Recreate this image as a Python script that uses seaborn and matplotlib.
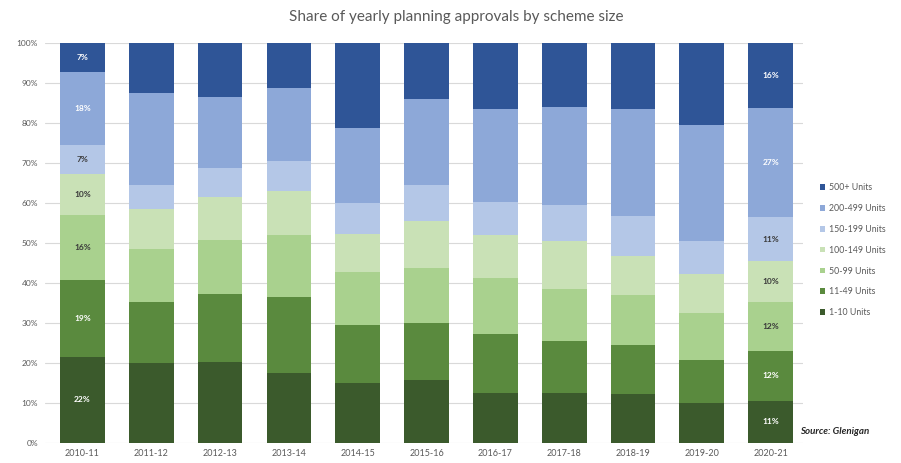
import numpy as np
import pandas as pd
import matplotlib
matplotlib.use("Agg")
import matplotlib.pyplot as plt
import seaborn as sns

# Financial years
years = ["2010-11", "2011-12", "2012-13", "2013-14", "2014-15", "2015-16",
         "2016-17", "2017-18", "2018-19", "2019-20", "2020-21"]

# Share of approvals (%) by scheme size, one list per size band
units_1_10 = [21.6, 19.9, 20.3, 17.6, 15.1, 15.7, 12.6, 12.6, 12.2, 10.1, 10.6]
units_11_49 = [19.2, 15.4, 16.9, 18.9, 14.3, 14.4, 14.6, 12.9, 12.3, 10.6, 12.4]
units_50_99 = [16.3, 13.3, 13.5, 15.6, 13.4, 13.7, 14.1, 12.9, 12.4, 11.7, 12.3]
units_100_149 = [10.2, 9.8, 10.8, 11.0, 9.4, 11.7, 10.6, 12.1, 9.8, 9.8, 10.3]
units_150_199 = [7.2, 6.2, 7.2, 7.3, 7.9, 9.1, 8.3, 9.1, 10.0, 8.3, 10.8]
units_200_499 = [18.3, 22.8, 17.9, 18.3, 18.6, 21.4, 23.3, 24.5, 26.7, 28.9, 27.4]
units_500_plus = [7.2, 12.6, 13.4, 11.3, 21.3, 14.0, 16.5, 15.9, 16.6, 20.6, 16.2]

# Legend order (top of stack first)
size_bands = ["500+ Units", "200-499 Units", "150-199 Units", "100-149 Units",
              "50-99 Units", "11-49 Units", "1-10 Units"]
band_values = [units_500_plus, units_200_499, units_150_199, units_100_149,
               units_50_99, units_11_49, units_1_10]
band_colors = ["#2f5597", "#8da8d8", "#b4c7e7", "#c9e1b6",
               "#a9d18e", "#5a8a3e", "#3b5a2c"]
label_colors = ["white", "white", "#3a3a3a", "#3a3a3a",
                "#3a3a3a", "white", "white"]
labelled_years = ["2010-11", "2020-21"]

rows = []
for band, vals in zip(size_bands, band_values):
    for yr, v in zip(years, vals):
        rows.append({"year": yr, "band": band, "share": v})
df = pd.DataFrame(rows)

sns.set_theme(style="white")
plt.rcParams["font.family"] = ["Lato", "DejaVu Sans"]

fig = plt.figure(figsize=(9.01, 4.63), dpi=100)
ax = fig.add_axes([45 / 901, 20 / 463, 758 / 901, 400 / 463])

sns.histplot(data=df, x="year", weights="share", hue="band",
             hue_order=size_bands, palette=band_colors, multiple="stack",
             discrete=True, shrink=0.65, alpha=1, linewidth=0, ax=ax,
             zorder=3)

# Segment labels on the first and last year
for yr in labelled_years:
    i = years.index(yr)
    base = 0.0
    for band, vals, tc in reversed(list(zip(size_bands, band_values, label_colors))):
        v = vals[i]
        ax.text(i, base + v / 2, f"{v:.0f}%", ha="center", va="center",
                fontsize=6, fontweight="bold", color=tc, zorder=4)
        base += v

ax.set_xlim(-0.545, 10.47)
ax.set_ylim(0, 100)
ax.set_yticks(np.arange(0, 101, 10))
ax.set_yticklabels([f"{t}%" for t in range(0, 101, 10)])
ax.set_xticks(range(len(years)))
ax.set_xticklabels(years)
ax.tick_params(axis="y", labelsize=6, colors="#595959", length=0, pad=5)
ax.tick_params(axis="x", labelsize=6.5, colors="#595959", length=0, pad=4)
ax.set_xlabel("")
ax.set_ylabel("")
ax.grid(axis="y", color="#d9d9d9", linewidth=0.8, zorder=0)
ax.set_axisbelow(True)
for s in ax.spines.values():
    s.set_visible(False)

sns.move_legend(ax, "center left", bbox_to_anchor=(1.012, 0.482), frameon=False,
                title=None, fontsize=6.3, handlelength=0.6, handleheight=0.6,
                handletextpad=0.4, labelspacing=1.35)
for t in ax.get_legend().get_texts():
    t.set_color("#595959")

fig.text(456 / 901, 1 - 17 / 463, "Share of yearly planning approvals by scheme size",
         ha="center", va="center", fontsize=11, color="#595959")
fig.text(800 / 901, 1 - 432 / 463, "Source: Glenigan", ha="left", va="center",
         fontsize=7, fontweight="bold", fontstyle="italic", color="#262626")

fig.savefig("out.png", dpi=100)
